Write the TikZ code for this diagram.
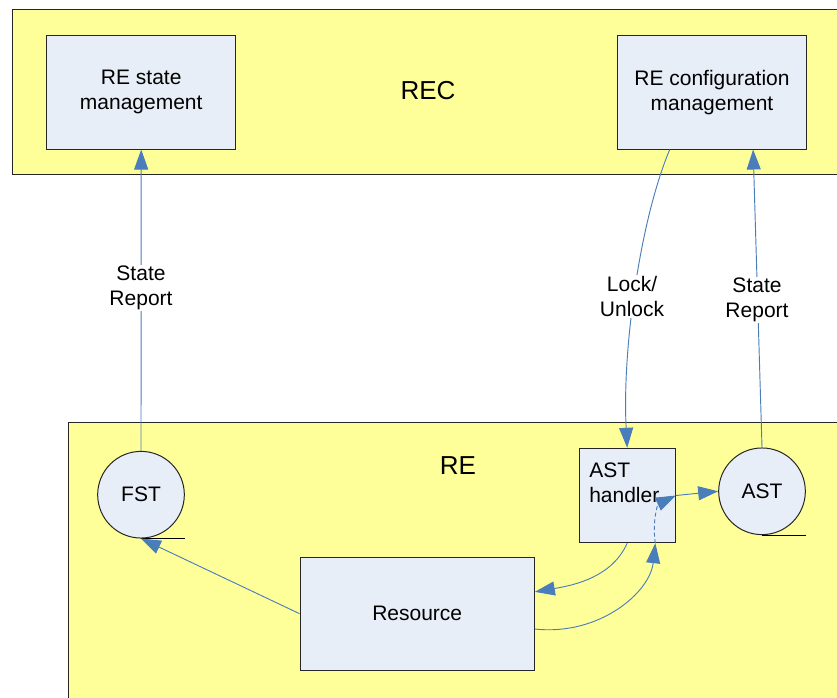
\documentclass[tikz,border=0pt]{standalone}
\usepackage{fontspec}
\setmainfont{Liberation Sans}
\usetikzlibrary{arrows.meta,calc}
\definecolor{recyellow}{HTML}{FFFF99}
\definecolor{boxblue}{HTML}{E8EEF8}
\definecolor{linkblue}{HTML}{4A7EBB}
\begin{document}
\begin{tikzpicture}[x=0.75pt,y=-0.75pt,
  container/.style={draw=black!85, fill=recyellow, line width=0.75pt},
  mgmt/.style={rectangle, draw=black!85, fill=boxblue, line width=0.75pt, align=center, inner sep=0pt, font=\fontsize{15.75}{18.75}\selectfont},
  store/.style={circle, draw=black!85, fill=boxblue, line width=0.75pt, minimum size=65pt, inner sep=0pt, font=\fontsize{15.75}{18.75}\selectfont},
  link/.style={draw=linkblue, line width=0.7pt, -{Triangle[length=15pt,width=10.5pt]}},
  dlink/.style={link, dashed, dash pattern=on 3pt off 2pt},
  lbl/.style={fill=white, inner sep=1pt, align=center, font=\fontsize{15.75}{18.75}\selectfont},
  title/.style={font=\fontsize{19.5}{23}\selectfont, inner sep=0pt},
  tapeline/.style={draw=black, line width=0.75pt}
]
\useasboundingbox (0,0) rectangle (837,698);
\clip (0,0) rectangle (837,698);
\fill[white] (0,0) rectangle (837,698);

% containers
\draw[container] (12,9.5) rectangle (870,175);
\draw[container] (68.7,422) rectangle (870,720);
\node[title] (rec) at (428,91) {REC};
\node[title] (re) at (458,466) {RE};

% REC boxes
\node[mgmt, minimum width=141.75pt, minimum height=85pt] (rsm) at (141.2,92.35) {RE state\\management};
\node[mgmt, minimum width=142pt, minimum height=85pt] (rcm) at (712,92.35) {RE configuration\\management};

% RE boxes
\node[mgmt, minimum width=72.2pt, minimum height=70.8pt] (hdl) at (627.2,495.5) {};
\node[anchor=north west, align=left, inner sep=0pt, font=\fontsize{15.75}{18.75}\selectfont] (hdltxt) at (589,463) {AST\\handler};
\node[mgmt, minimum width=175.7pt, minimum height=84.5pt] (res) at (417.2,613.7) {Resource};

\node[store] (fst) at (141,494.7) {FST};
\draw[tapeline] (fst.south) -- ++(44,0) coordinate (fstend);
\node[store] (astc) at (762,491.3) {AST};
\draw[tapeline] (astc.south) -- ++(44,0) coordinate (astend);

% connectors
\draw[link] (fst.north) -- (rsm.south);
\node[lbl] (l1) at (141,288) {State\\Report};

\coordinate (cfgout) at ($(rcm.south west)!0.278!(rcm.south east)$);
\draw[link] (cfgout) .. controls (640,220) and (622,350) .. (hdl.north);
\node[lbl] (l2) at (632,296.5) {Lock/\\Unlock};

\coordinate (cfgin) at ($(rcm.south west)!0.716!(rcm.south east)$);
\draw[link] (astc.north) -- (cfgin);
\node[lbl] (l3) at (757,300) {State\\Report};

\draw[link] (res.west) -- (fst.south);

\coordinate (resin) at ($(res.north east)!0.308!(res.south east)$);
\draw[link] (hdl.south) .. controls (612,577) and (575,585) .. (resin);

\coordinate (resout) at ($(res.north east)!0.635!(res.south east)$);
\coordinate (hdlin) at ($(hdl.south west)!0.789!(hdl.south east)$);
\draw[link] (resout) .. controls (600,636) and (650,592) .. (hdlin);
\draw[dlink] (hdlin) .. controls (652,520) and (658,504) .. (hdl.east);
\draw[link] (hdl.east) -- (astc.west);
\end{tikzpicture}
\end{document}
